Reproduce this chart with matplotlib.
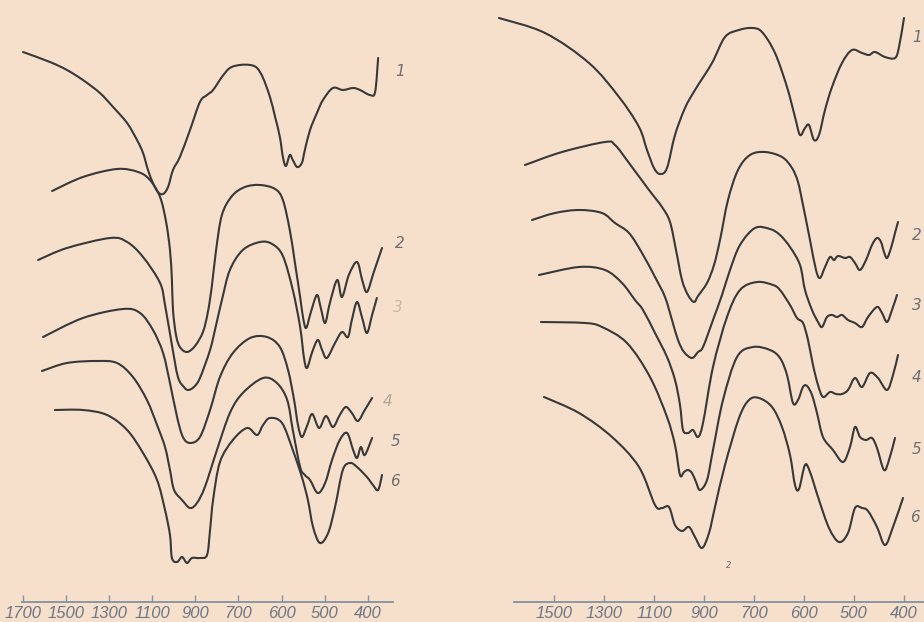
import numpy as np
import matplotlib.pyplot as plt
from matplotlib.path import Path
from matplotlib.patches import PathPatch

# IR spectra, wavenumber in cm-1, transmission in arbitrary units (curves shifted)
ticks_left = [1700, 1500, 1300, 1100, 900, 700, 600, 500, 400]
ticks_right = [1500, 1300, 1100, 900, 700, 600, 500, 400]
labels_left = ["1", "2", "3", "4", "5", "6"]
labels_right = ["1", "2", "3", "4", "5", "6"]

# left panel
a1_wn = [1700, 1575, 1496, 1422, 1343, 1282, 1217, 1171, 1143, 1120, 1097, 1074, 1050, 1027, 1004,
         972, 925, 879, 846, 818, 777, 740, 697, 673, 657, 643, 627, 615, 604, 597, 590, 581, 574,
         564, 553, 546, 534, 518, 504, 481, 458, 434, 418, 395, 383, 376]
a1_t = [54.8, 53.8, 53.0, 52.0, 50.7, 49.3, 47.7, 46.0, 44.7, 43.0, 41.7, 40.8, 40.6, 41.3, 43.0,
        44.3, 47.0, 49.8, 50.5, 51.0, 52.3, 53.2, 53.5, 53.5, 53.2, 52.2, 50.3, 48.3, 46.3, 44.3, 43.4,
        44.5, 44.0, 43.3, 43.7, 45.0, 47.0, 48.7, 50.0, 51.2, 51.0, 51.2, 51.0, 50.5, 50.8, 54.2]

a2_wn = [1565, 1422, 1264, 1166, 1111, 1064, 1036, 1018, 1009, 1004, 990, 972, 939, 902, 865, 842,
         823, 804, 777, 730, 685, 650, 615, 597, 581, 569, 557, 550, 543, 532, 518, 509, 499, 488,
         471, 460, 444, 425, 413, 402, 386, 367]
a2_t = [40.9, 42.3, 43.1, 42.8, 42.0, 40.3, 37.8, 35.0, 32.0, 29.0, 26.5, 25.3, 24.8, 25.4, 26.8, 28.8,
        31.5, 35.0, 38.5, 40.4, 41.3, 41.5, 41.1, 40.0, 37.0, 33.7, 30.3, 28.2, 27.2, 28.8, 30.5, 29.2,
        27.7, 29.7, 32.0, 30.3, 32.5, 33.8, 32.0, 30.8, 32.8, 35.2]

a3_wn = [1630, 1496, 1296, 1217, 1143, 1064, 1041, 1009, 981, 953, 934, 907, 879, 832, 804, 777,
         740, 690, 650, 622, 597, 574, 557, 548, 541, 529, 516, 506, 495, 476, 460, 446, 437, 425,
         413, 402, 390, 379]
a3_t = [34.0, 35.2, 36.2, 35.8, 34.3, 31.7, 29.5, 25.5, 22.3, 21.3, 21.0, 21.3, 22.2, 25.0, 27.5, 30.0,
        33.0, 35.0, 35.8, 35.6, 34.4, 31.0, 27.3, 24.2, 23.2, 24.8, 26.0, 25.0, 24.2, 25.7, 26.8, 26.3,
        28.0, 29.8, 28.2, 26.7, 28.5, 30.2]

a4_wn = [1607, 1422, 1236, 1157, 1097, 1050, 1018, 985, 958, 925, 879, 832, 786, 726, 673, 634,
         604, 585, 571, 562, 553, 541, 529, 513, 497, 481, 465, 451, 437, 423, 407, 390]
a4_t = [26.3, 28.2, 29.1, 28.7, 27.0, 24.7, 21.7, 18.3, 16.3, 15.7, 16.3, 19.0, 22.3, 24.7, 26.2, 26.3,
        25.3, 23.0, 20.0, 17.5, 16.3, 17.4, 18.6, 17.2, 18.4, 17.3, 18.5, 19.3, 18.7, 17.9, 19.0, 20.2]

a5_wn = [1612, 1496, 1357, 1264, 1190, 1125, 1078, 1041, 1018, 999, 962, 925, 893, 856, 800, 740,
         690, 643, 611, 587, 574, 557, 546, 534, 516, 499, 483, 465, 448, 434, 425, 416, 407, 390]
a5_t = [22.9, 23.7, 23.9, 23.7, 22.3, 20.0, 17.5, 15.3, 13.0, 11.0, 10.0, 9.2, 9.7, 11.3, 15.0, 18.7,
        20.7, 22.2, 21.7, 20.0, 17.0, 13.3, 12.5, 12.0, 10.7, 11.7, 14.0, 16.0, 16.7, 15.0, 14.2, 15.3,
        14.5, 16.2]

a6_wn = [1552, 1422, 1310, 1217, 1143, 1078, 1041, 1018, 1009, 985, 962, 939, 916, 879, 846, 832,
         818, 786, 726, 680, 657, 643, 627, 599, 574, 553, 539, 527, 511, 492, 476, 458, 441, 425,
         402, 388, 376, 367]
a6_t = [19.0, 19.0, 18.5, 17.0, 14.7, 12.0, 9.0, 6.5, 4.2, 3.8, 4.3, 3.7, 4.2, 4.2, 4.5, 7.0,
        10.0, 13.8, 16.0, 17.2, 16.5, 17.5, 18.2, 17.7, 15.0, 12.3, 10.0, 7.3, 5.7, 6.7, 9.3, 13.0,
        13.7, 13.3, 12.3, 11.5, 11.0, 12.5]

# right panel
b1_wn = [1720, 1536, 1360, 1240, 1160, 1128, 1100, 1076, 1048, 1016, 976, 936, 868, 816, 760, 708,
         684, 658, 634, 618, 608, 598, 590, 580, 570, 558, 544, 524, 504, 484, 470, 458, 438, 418,
         410, 400]
b1_t = [58.2, 56.7, 53.7, 50.3, 47.3, 45.0, 43.2, 42.6, 43.2, 46.5, 49.2, 51.0, 53.7, 56.3, 57.0, 57.2,
        56.8, 54.7, 51.3, 48.3, 46.5, 47.2, 47.5, 46.0, 46.5, 49.0, 51.3, 53.7, 55.0, 54.7, 54.5, 54.8,
        54.3, 54.2, 55.3, 58.2]

b2_wn = [1616, 1468, 1296, 1256, 1200, 1120, 1068, 1036, 1012, 988, 964, 940, 924, 888, 860, 836,
         804, 764, 716, 678, 644, 624, 612, 602, 588, 576, 568, 558, 548, 540, 532, 518, 508, 498,
         488, 476, 464, 454, 446, 440, 434, 426, 418, 412]
b2_t = [43.5, 44.8, 45.8, 45.5, 43.7, 41.0, 39.3, 37.8, 35.0, 32.0, 30.5, 29.8, 30.4, 31.7, 33.5, 36.0,
        40.0, 43.0, 44.5, 44.8, 44.3, 43.2, 41.8, 39.5, 36.0, 33.0, 32.2, 33.3, 34.3, 34.0, 34.4, 34.2,
        34.3, 33.7, 33.0, 34.0, 35.5, 36.2, 35.8, 34.8, 34.2, 35.2, 36.7, 37.8]

b3_wn = [1588, 1496, 1400, 1308, 1256, 1200, 1148, 1096, 1056, 1028, 1004, 980, 948, 924, 904, 864,
         828, 796, 756, 698, 668, 648, 628, 608, 598, 584, 572, 564, 554, 544, 534, 524, 512, 498,
         484, 472, 454, 444, 434, 424, 414]
b3_t = [38.0, 38.7, 39.0, 38.7, 37.7, 36.7, 34.7, 32.3, 30.3, 28.0, 26.0, 24.8, 24.2, 24.8, 25.3, 28.0,
        30.5, 33.0, 35.5, 37.2, 37.1, 36.5, 35.3, 33.5, 31.0, 29.0, 27.8, 27.3, 28.3, 28.5, 28.3, 28.5,
        28.0, 27.7, 27.3, 28.3, 29.3, 28.7, 27.8, 29.0, 30.5]

b4_wn = [1560, 1400, 1296, 1228, 1176, 1144, 1096, 1048, 1016, 996, 984, 964, 944, 924, 904, 864,
         808, 756, 694, 662, 648, 628, 614, 602, 592, 582, 572, 562, 548, 536, 524, 512, 498, 484,
         468, 452, 434, 422, 412]
b4_t = [32.5, 33.3, 33.0, 31.7, 30.0, 29.0, 26.7, 24.3, 22.0, 19.5, 17.0, 16.7, 17.0, 16.3, 17.7, 23.3,
        28.3, 31.0, 31.8, 31.5, 31.0, 29.5, 28.2, 27.7, 26.0, 23.5, 21.5, 20.3, 20.8, 20.6, 20.6, 21.0,
        22.2, 21.3, 22.7, 22.2, 21.0, 22.5, 24.5]

b5_wn = [1552, 1376, 1308, 1208, 1116, 1048, 1016, 996, 980, 964, 948, 932, 916, 888, 864, 824,
         768, 704, 668, 648, 634, 622, 612, 602, 594, 584, 574, 562, 542, 522, 508, 498, 488, 476,
         464, 454, 440, 430, 418]
b5_t = [27.8, 27.7, 27.3, 25.7, 22.3, 18.3, 15.5, 12.5, 12.8, 13.0, 12.7, 11.8, 11.0, 12.0, 15.0, 20.0,
        24.3, 25.3, 25.0, 24.2, 22.5, 19.7, 20.0, 21.3, 21.4, 20.5, 18.7, 16.3, 15.0, 13.8, 15.3, 17.3,
        16.3, 16.0, 16.2, 15.2, 13.0, 14.0, 16.2]

b6_wn = [1540, 1400, 1268, 1160, 1096, 1068, 1040, 1016, 988, 960, 936, 908, 880, 856, 816, 760,
         720, 690, 664, 644, 628, 618, 610, 598, 588, 570, 550, 530, 512, 498, 484, 472, 454, 438,
         422, 402]
b6_t = [20.3, 18.7, 16.3, 13.3, 9.5, 9.2, 9.3, 7.5, 6.9, 7.3, 6.3, 5.2, 6.7, 9.3, 13.5, 18.2,
        20.0, 20.2, 19.3, 17.3, 14.5, 11.5, 11.1, 13.5, 12.8, 10.0, 7.2, 5.8, 6.7, 9.2, 9.2, 8.9,
        7.3, 5.5, 7.3, 10.2]


# axis is linear in steps of 200 above 700 cm-1 and in steps of 100 below it
def fwd(v):
    v = np.asarray(v, dtype=float)
    return np.where(v >= 700, (v - 1700) / 200, (v - 700) / 100 - 5)


def inv(u):
    u = np.asarray(u, dtype=float)
    return np.where(u >= -5, 1700 + 200 * u, 700 + 100 * (u + 5))


def smooth_path(wn, t):
    # Catmull-Rom through the read points (computed in scale units), as cubic Beziers
    p = np.column_stack([fwd(wn), t])
    pe = np.vstack([p[0], p, p[-1]])
    verts = [p[0]]
    codes = [Path.MOVETO]
    for i in range(len(p) - 1):
        p0, p1, p2, p3 = pe[i], pe[i + 1], pe[i + 2], pe[i + 3]
        verts += [p1 + (p2 - p0) / 6, p2 - (p3 - p1) / 6, p2]
        codes += [Path.CURVE4] * 3
    verts = np.array(verts)
    verts[:, 0] = inv(verts[:, 0])
    return Path(verts, codes)


paper = "#f6e0cc"
ink = "#383838"
axis_col = "#8492a2"
num_col = "#6c7686"
lab_col = "#6e6e6e"

fig = plt.figure(figsize=(9.24, 6.22), dpi=100, facecolor=paper)
ax_l = fig.add_axes([0, 0, 0.5, 1])
ax_r = fig.add_axes([0.5, 0, 0.5, 1])

left_curves = [(a1_wn, a1_t), (a2_wn, a2_t), (a3_wn, a3_t), (a4_wn, a4_t), (a5_wn, a5_t), (a6_wn, a6_t)]
right_curves = [(b1_wn, b1_t), (b2_wn, b2_t), (b3_wn, b3_t), (b4_wn, b4_t), (b5_wn, b5_t), (b6_wn, b6_t)]

for ax, curves, ticks, xl, bounds in [
    (ax_l, left_curves, ticks_left, (1806.8, 181.4), (1704, 342)),
    (ax_r, right_curves, ticks_right, (1868, 360), (1660, 360)),
]:
    ax.set_facecolor(paper)
    ax.set_xscale("function", functions=(fwd, inv))
    ax.set_xlim(*xl)
    ax.set_ylim(-2.2, 60)
    for wn, t in curves:
        ax.add_patch(PathPatch(smooth_path(wn, t), fill=False, edgecolor=ink, lw=1.5,
                               joinstyle="round", capstyle="round"))
    for s in ["top", "left", "right"]:
        ax.spines[s].set_visible(False)
    ax.spines["bottom"].set_position(("data", -0.2))
    ax.spines["bottom"].set_bounds(*bounds)
    ax.spines["bottom"].set_color(axis_col)
    ax.spines["bottom"].set_linewidth(1.3)
    ax.set_xticks(ticks)
    ax.set_xticklabels([str(t) for t in ticks], fontstyle="italic", fontsize=12,
                       color=num_col, family="Liberation Sans")
    ax.tick_params(axis="x", direction="in", length=5, width=1, color=axis_col, pad=3)
    ax.set_yticks([])

# curve numbers
pos_left = [(400, 72), (400, 243), (398, 307), (388, 402), (396, 442), (395, 482)]
pos_right = [(917, 38), (917, 235), (917, 305), (917, 377), (917, 450), (915, 518)]
alphas_left = [1, 1, 0.35, 0.5, 1, 1]
for txt, (x, y), a in zip(labels_left, pos_left, alphas_left):
    fig.text(x / 924, 1 - y / 622, txt, fontsize=11, fontstyle="italic", color=lab_col,
             alpha=a, ha="center", va="center")
for txt, (x, y) in zip(labels_right, pos_right):
    fig.text(x / 924, 1 - y / 622, txt, fontsize=11, fontstyle="italic", color=lab_col,
             ha="center", va="center")
fig.text(729 / 924, 1 - 565 / 622, "2", fontsize=6, fontstyle="italic", color=lab_col,
         ha="center", va="center")

fig.savefig("out.png", dpi=100, facecolor=paper)
